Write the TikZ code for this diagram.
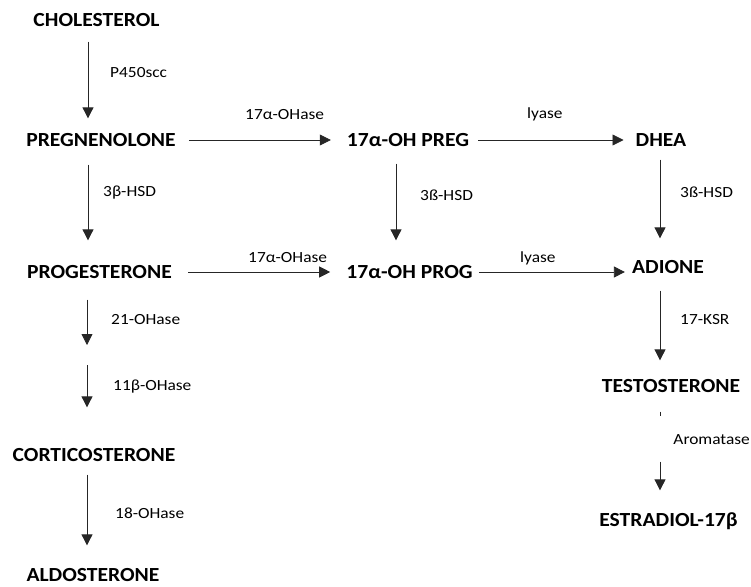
\documentclass[tikz,border=0pt]{standalone}
\usepackage{fontspec}
\setmainfont{Carlito}[FakeStretch=1.08]
\newfontfamily\enzfont{Carlito}[FakeStretch=1.12]
\usetikzlibrary{arrows.meta}
\tikzset{
	chem/.style={font=\fontsize{20}{22}\selectfont\bfseries, inner sep=0pt, text height=12.9pt, text depth=0pt},
	enz/.style={font=\enzfont\fontsize{15.5}{17}\selectfont, inner sep=0pt, anchor=west},
	arr/.style={-{Triangle[width=11pt,length=11pt]}, line width=0.8pt, black!85}
}
\begin{document}
\begin{tikzpicture}[x=1pt, y=-1pt]
	\useasboundingbox (0,0) rectangle (751,586);
	\coordinate (colL) at (88,0);
	\coordinate (colM) at (396,0);
	\coordinate (colR) at (660,0);
	% steroids
	\node[chem] at (96.5,20)(chol){CHOLESTEROL};
	\node[chem] at (101,140)(preg){PREGNENOLONE};
	\node[chem] at (99.5,272)(prog){PROGESTERONE};
	\node[chem] at (408,140)(ohpreg){17α-OH PREG};
	\node[chem] at (409.5,272)(ohprog){17α-OH PROG};
	\node[chem] at (661,140)(dhea){DHEA};
	\node[chem] at (668,267)(adione){ADIONE};
	\node[chem] at (671,386)(testo){TESTOSTERONE};
	\node[chem] at (668.5,520)(estr){ESTRADIOL-17β};
	\node[chem] at (94,455)(cortico){CORTICOSTERONE};
	\node[chem] at (93,575)(aldo){ALDOSTERONE};
	% enzymes
	\node[enz] at (110,73)(scc){P450scc};
	\node[enz] at (103,193)(hsdL){3β-HSD};
	\node[enz] at (420,195)(hsdM){3ß-HSD};
	\node[enz] at (680,192)(hsdR){3ß-HSD};
	\node[enz] at (245,115)(ohaseA){17α-OHase};
	\node[enz] at (527,114)(lyaseA){lyase};
	\node[enz] at (248,258)(ohaseB){17α-OHase};
	\node[enz] at (520,258)(lyaseB){lyase};
	\node[enz] at (111,320)(oh21){21-OHase};
	\node[enz] at (113,387)(oh11){11β-OHase};
	\node[enz] at (115,513)(oh18){18-OHase};
	\node[enz] at (680,320)(ksr){17-KSR};
	\node[enz, anchor=east] at (750,440)(arom){Aromatase};
	\coordinate (c21) at (87,345);
	\coordinate (c11) at (87,365);
	% reactions
	\draw[arr, shorten <=15pt, shorten >=15pt] (chol.south -| colL) -- (preg.north -| colL);
	\draw[arr, shorten <=18pt, shorten >=25pt] (preg.south -| colL) -- (prog.north -| colL);
	\draw[arr, shorten <=17pt, shorten >=25pt] (ohpreg.south -| colM) -- (ohprog.north -| colM);
	\draw[arr, shorten <=13pt, shorten >=22pt] (dhea.south -| colR) -- (adione.north -| colR);
	\draw[arr, shorten <=21pt] (prog.south -| c21) -- (c21);
	\draw[arr, shorten >=41pt] (c11) -- (cortico.north -| c11);
	\draw[arr, shorten <=13pt, shorten >=23pt] (cortico.south -| c11) -- (aldo.north -| c11);
	\draw[arr, shorten <=17pt, shorten >=19pt] (adione.south -| colR) -- (testo.north -| colR);
	\draw[arr, shorten <=19pt, shorten >=23pt, dash pattern=on 4pt off 46pt on 60pt] (testo.south -| colR) -- (estr.north -| colR);
	\draw[arr, shorten <=13pt, shorten >=16pt] (preg) -- (ohpreg);
	\draw[arr, shorten <=9pt, shorten >=12pt] (ohpreg) -- (dhea);
	\draw[arr, shorten <=16pt, shorten >=16pt] (prog) -- (ohprog);
	\draw[arr, shorten <=6pt, shorten >=7pt] (ohprog) -- (ohprog -| adione.west);
\end{tikzpicture}
\end{document}
